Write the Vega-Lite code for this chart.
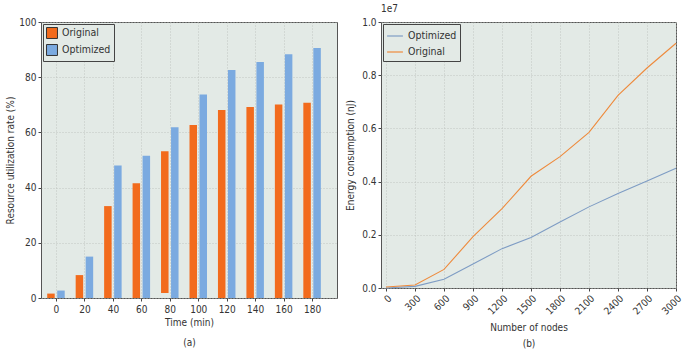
{
  "$schema": "https://vega.github.io/schema/vega-lite/v6.json",
  "background": "white",
  "padding": {"left": 5, "top": 3, "right": 0, "bottom": 0},
  "spacing": 44,
  "bounds": "flush",
  "datasets": {
    "util": [
      {"time": 0, "series": "Original", "value": 1.6, "lo": 0},
      {"time": 20, "series": "Original", "value": 8.3, "lo": 0},
      {"time": 40, "series": "Original", "value": 33.3, "lo": 0},
      {"time": 60, "series": "Original", "value": 41.6, "lo": 0},
      {"time": 80, "series": "Original", "value": 53.2, "lo": 1.8},
      {"time": 100, "series": "Original", "value": 62.7, "lo": 0},
      {"time": 120, "series": "Original", "value": 68.1, "lo": 0},
      {"time": 140, "series": "Original", "value": 69.2, "lo": 0},
      {"time": 160, "series": "Original", "value": 70.1, "lo": 0},
      {"time": 180, "series": "Original", "value": 70.7, "lo": 0},
      {"time": 0, "series": "Optimized", "value": 2.7, "lo": 0},
      {"time": 20, "series": "Optimized", "value": 15.0, "lo": 0},
      {"time": 40, "series": "Optimized", "value": 48.0, "lo": 0},
      {"time": 60, "series": "Optimized", "value": 51.5, "lo": 0},
      {"time": 80, "series": "Optimized", "value": 61.9, "lo": 0},
      {"time": 100, "series": "Optimized", "value": 73.7, "lo": 0},
      {"time": 120, "series": "Optimized", "value": 82.6, "lo": 0},
      {"time": 140, "series": "Optimized", "value": 85.5, "lo": 0},
      {"time": 160, "series": "Optimized", "value": 88.3, "lo": 0},
      {"time": 180, "series": "Optimized", "value": 90.6, "lo": 0}
    ],
    "energy": [
      {"nodes": 0, "series": "Optimized", "energy": 0},
      {"nodes": 300, "series": "Optimized", "energy": 60000},
      {"nodes": 600, "series": "Optimized", "energy": 330000},
      {"nodes": 900, "series": "Optimized", "energy": 900000},
      {"nodes": 1200, "series": "Optimized", "energy": 1480000},
      {"nodes": 1500, "series": "Optimized", "energy": 1900000},
      {"nodes": 1800, "series": "Optimized", "energy": 2480000},
      {"nodes": 2100, "series": "Optimized", "energy": 3050000},
      {"nodes": 2400, "series": "Optimized", "energy": 3550000},
      {"nodes": 2700, "series": "Optimized", "energy": 4020000},
      {"nodes": 3000, "series": "Optimized", "energy": 4500000},
      {"nodes": 0, "series": "Original", "energy": 40000},
      {"nodes": 300, "series": "Original", "energy": 110000},
      {"nodes": 600, "series": "Original", "energy": 700000},
      {"nodes": 900, "series": "Original", "energy": 1930000},
      {"nodes": 1200, "series": "Original", "energy": 2980000},
      {"nodes": 1500, "series": "Original", "energy": 4200000},
      {"nodes": 1800, "series": "Original", "energy": 4940000},
      {"nodes": 2100, "series": "Original", "energy": 5850000},
      {"nodes": 2400, "series": "Original", "energy": 7240000},
      {"nodes": 2700, "series": "Original", "energy": 8270000},
      {"nodes": 3000, "series": "Original", "energy": 9200000}
    ]
  },
  "config": {
    "font": "DejaVu Sans Condensed",
    "view": {"fill": "#E3EAE6", "stroke": "#555555", "strokeWidth": 1},
    "axis": {
      "labelFont": "DejaVu Sans Condensed",
      "titleFont": "DejaVu Sans Condensed",
      "labelFontSize": 10,
      "titleFontSize": 10,
      "titleFontWeight": "normal",
      "labelColor": "#333333",
      "titleColor": "#333333",
      "domain": false,
      "tickColor": "#444444",
      "tickSize": 3,
      "gridColor": "#b8bcb8",
      "gridDash": [1, 2],
      "gridWidth": 0.8
    },
    "legend": {
      "labelFont": "DejaVu Sans Condensed",
      "labelFontSize": 10.5,
      "labelColor": "#333333",
      "strokeColor": "#444444",
      "fillColor": "#E3EAE6",
      "padding": 3,
      "rowPadding": 1,
      "title": null
    },
    "title": {"font": "DejaVu Sans Condensed", "fontSize": 10, "fontWeight": "normal", "color": "#333333"}
  },
  "resolve": {"scale": {"color": "independent"}},
  "hconcat": [
    {
      "width": 296,
      "height": 276,
      "data": {"name": "util"},
      "encoding": {
        "x": {
          "field": "time", "type": "quantitative",
          "scale": {"domain": [-7, 194], "nice": false, "zero": false},
          "axis": {"values": [0, 20, 40, 60, 80, 100, 120, 140, 160, 180], "format": "d", "title": ["Time (min)", "(a)"], "titleLineHeight": 20, "titlePadding": 3, "labelPadding": 3}
        },
        "y": {
          "field": "value", "type": "quantitative",
          "scale": {"domain": [0, 100], "nice": false},
          "axis": {"values": [0, 20, 40, 60, 80, 100], "title": "Resource utilization rate (%)", "titlePadding": 3}
        },
        "y2": {"field": "lo"},
        "color": {
          "field": "series", "type": "nominal",
          "scale": {"domain": ["Original", "Optimized"], "range": ["#F26B1D", "#7BAAE0"]},
          "legend": {"orient": "top-left", "offset": 2, "symbolType": "square", "symbolSize": 120, "symbolStrokeColor": "#333333", "symbolStrokeWidth": 1}
        }
      },
      "layer": [
        {
          "transform": [{"filter": "datum.series === 'Original'"}],
          "mark": {"type": "bar", "width": 7.5, "xOffset": -5}
        },
        {
          "transform": [{"filter": "datum.series === 'Optimized'"}],
          "mark": {"type": "bar", "width": 7.5, "xOffset": 5}
        }
      ]
    },
    {
      "width": 295,
      "height": 266,
      "data": {"name": "energy"},
      "title": {"text": "1e7", "anchor": "start", "frame": "group", "offset": 3, "fontSize": 10},
      "mark": {"type": "line", "strokeWidth": 1.1},
      "encoding": {
        "x": {
          "field": "nodes", "type": "quantitative",
          "scale": {"domain": [-52, 3000], "nice": false, "zero": false},
          "axis": {"values": [0, 300, 600, 900, 1200, 1500, 1800, 2100, 2400, 2700, 3000], "format": "d", "labelAngle": -45, "title": ["Number of nodes", "(b)"], "titleLineHeight": 16, "titlePadding": 6}
        },
        "y": {
          "field": "energy", "type": "quantitative",
          "scale": {"domain": [0, 10000000], "nice": false},
          "axis": {"values": [0, 2000000, 4000000, 6000000, 8000000, 10000000], "labelExpr": "format(datum.value / 10000000, '.1f')", "title": "Energy consumption (nJ)", "titlePadding": 6}
        },
        "color": {
          "field": "series", "type": "nominal",
          "scale": {"domain": ["Optimized", "Original"], "range": ["#7E9CC4", "#EE8A3C"]},
          "legend": {"orient": "top-left", "offset": 2, "symbolType": "stroke", "symbolSize": 250, "symbolStrokeWidth": 1.2}
        }
      }
    }
  ]
}
